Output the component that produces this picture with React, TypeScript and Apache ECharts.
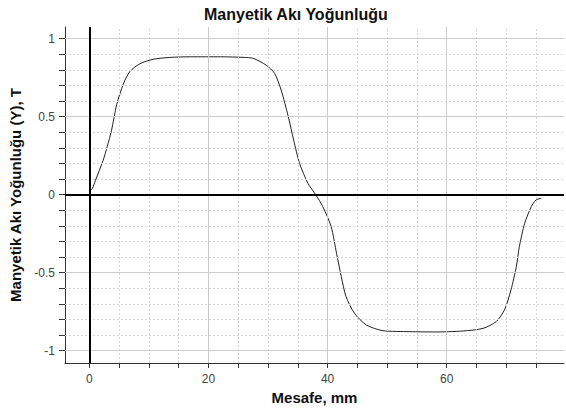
import React, { useEffect, useRef } from "react";
import * as echarts from "echarts";

const titleText = "Manyetik Akı Yoğunluğu";
const xAxisName = "Mesafe, mm";
const yAxisName = "Manyetik Akı Yoğunluğu (Y), T";

const xValues = [
  0.0, 0.5, 1.0, 2.3, 3.0, 3.7, 4.6, 5.7, 6.8, 8.5, 10.7, 13.5, 17, 22, 26, 27.5,
  29.7, 31.1, 32.2, 33.4, 34.3, 35.3, 36.7, 38.0, 39.2, 40.6, 41.5, 42.3, 43.1,
  44.5, 46.5, 49.3, 53.8, 58, 62.7, 66.1, 68.3, 69.7, 70.8, 71.7, 72.2, 73.1,
  74.2, 75.0, 75.9,
];
const yValues = [
  0.02, 0.04, 0.09, 0.22, 0.31, 0.41, 0.58, 0.71, 0.79, 0.84, 0.868, 0.88, 0.884,
  0.884, 0.88, 0.874, 0.83, 0.778, 0.67, 0.5, 0.35, 0.2, 0.073, 0.0, -0.077,
  -0.205, -0.376, -0.526, -0.654, -0.76, -0.835, -0.872, -0.878, -0.88, -0.874,
  -0.857, -0.814, -0.739, -0.61, -0.46, -0.333, -0.183, -0.077, -0.034, -0.023,
];

const xTickValues = [0, 5, 10, 15, 20, 25, 30, 35, 40, 45, 50, 55, 60, 65, 70, 75];
const xLabelValues = [0, 20, 40, 60];
const yTickValues = [
  -1, -0.9, -0.8, -0.7, -0.6, -0.5, -0.4, -0.3, -0.2, -0.1, 0, 0.1, 0.2, 0.3,
  0.4, 0.5, 0.6, 0.7, 0.8, 0.9, 1,
];
const yLabelValues = [-1, -0.5, 0, 0.5, 1];

const X_MIN = -4.1;
const X_MAX = 79.7;
const Y_MIN = -1.079;
const Y_MAX = 1.075;

export default function App() {
  const ref = useRef<HTMLDivElement>(null);

  useEffect(() => {
    if (!ref.current) return;
    const chart = echarts.init(ref.current, undefined, { renderer: "svg" });

    const majorStyle = { color: "#cccccc", width: 1, type: "solid" as const };
    const minorStyle = { color: "#d6d6d6", width: 1, type: [2, 2] as number[] };

    const gridLines: any[] = [];
    xTickValues.forEach((v) => {
      if (v === 0) return;
      const major = xLabelValues.includes(v);
      gridLines.push({ xAxis: v, lineStyle: major ? majorStyle : minorStyle });
    });
    yTickValues.forEach((v) => {
      if (v === 0) return;
      const major = yLabelValues.includes(v);
      gridLines.push({ yAxis: v, lineStyle: major ? majorStyle : minorStyle });
    });

    const curve = xValues.map((x, i) => [x, yValues[i]]);
    const font = "'Liberation Sans', Arial, sans-serif";

    chart.setOption({
      animation: false,
      backgroundColor: "#ffffff",
      title: {
        text: titleText,
        left: 199,
        top: 1,
        textStyle: {
          fontFamily: font,
          fontWeight: "bold",
          fontSize: 16,
          color: "#111111",
        },
      },
      grid: { left: 65, right: 2, top: 27, bottom: 47, containLabel: false },
      xAxis: {
        type: "value",
        min: X_MIN,
        max: X_MAX,
        name: xAxisName,
        nameLocation: "middle",
        nameGap: 23,
        nameTextStyle: {
          fontFamily: font,
          fontWeight: "bold",
          fontSize: 15,
          color: "#111111",
        },
        axisLine: { show: true, onZero: false, lineStyle: { color: "#333333", width: 1 } },
        axisTick: {
          show: true,
          length: 5,
          customValues: xTickValues,
          lineStyle: { color: "#333333" },
        },
        axisLabel: {
          customValues: xLabelValues,
          fontFamily: font,
          fontSize: 12,
          color: "#444444",
          margin: 10,
        },
        splitLine: { show: false },
      },
      yAxis: {
        type: "value",
        min: Y_MIN,
        max: Y_MAX,
        name: yAxisName,
        nameLocation: "middle",
        nameGap: 35,
        nameTextStyle: {
          fontFamily: font,
          fontWeight: "bold",
          fontSize: 15,
          color: "#111111",
        },
        axisLine: { show: true, onZero: false, lineStyle: { color: "#333333", width: 1 } },
        axisTick: {
          show: true,
          length: 6,
          customValues: yTickValues,
          lineStyle: { color: "#333333" },
        },
        axisLabel: {
          customValues: yLabelValues,
          fontFamily: font,
          fontSize: 12,
          color: "#444444",
          margin: 10,
        },
        splitLine: { show: false },
      },
      series: [
        {
          type: "line",
          data: curve,
          z: 1,
          showSymbol: false,
          symbol: "none",
          lineStyle: { opacity: 0 },
          silent: true,
          markLine: {
            silent: true,
            symbol: ["none", "none"],
            label: { show: false },
            emphasis: { disabled: true },
            data: gridLines,
          },
        },
        {
          type: "line",
          data: curve,
          z: 2,
          showSymbol: false,
          symbol: "none",
          lineStyle: { opacity: 0 },
          silent: true,
          markLine: {
            silent: true,
            symbol: ["none", "none"],
            label: { show: false },
            emphasis: { disabled: true },
            lineStyle: { color: "#000000", width: 2, type: "solid" },
            data: [{ xAxis: 0 }, { yAxis: 0 }],
          },
        },
        {
          type: "line",
          data: curve,
          z: 3,
          smooth: 0.25,
          showSymbol: false,
          symbol: "none",
          lineStyle: { color: "#222222", width: 1 },
          silent: true,
        },
      ],
    });

    return () => chart.dispose();
  }, []);

  return (
    <div
      ref={ref}
      style={{ position: "fixed", left: 0, top: 0, width: 566, height: 410, background: "#fff" }}
    />
  );
}
